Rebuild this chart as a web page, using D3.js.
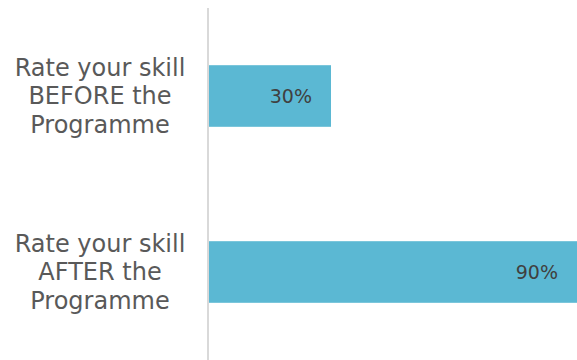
<!DOCTYPE html>
<html>
<head>
<meta charset="utf-8">
<script src="https://cdnjs.cloudflare.com/ajax/libs/d3/7.8.5/d3.min.js"></script>
<style>
	body { margin: 0; background: #fff; }
	svg { display: block; font-family: 'DejaVu Sans', Verdana, sans-serif; }
</style>
</head>
<body>
<div id="chart"></div>
<script>
// chart data
var categories = [
	['Rate your skill', 'BEFORE the', 'Programme'],
	['Rate your skill', 'AFTER the', 'Programme']
];
var values = [0.30, 0.90];
var valueLabels = ['30%', '90%'];

var width = 577, height = 360;
var margin = {left: 208, right: 0, top: 8, bottom: 0};

var svg = d3.select('#chart')
	.append('svg')
	.attr('width', width)
	.attr('height', height);

var x = d3.scaleLinear()
	.domain([0, 0.9])
	.range([margin.left, width - margin.right]);

var y = d3.scaleBand()
	.domain(d3.range(categories.length))
	.range([8, 360])
	.paddingInner(0.65)
	.paddingOuter(0.325);

// bars
svg.selectAll('.bar')
	.data(values)
	.enter().append('rect')
	.attr('class', 'bar')
	.attr('fill', '#5bb8d3')
	.attr('x', x(0) + 1)
	.attr('y', function(d, i) { return y(i); })
	.attr('width', function(d) { return x(d) - x(0) - 1; })
	.attr('height', y.bandwidth());

// value labels, inside end
svg.selectAll('.val')
	.data(values)
	.enter().append('text')
	.attr('class', 'val')
	.attr('x', function(d) { return x(d) - 19; })
	.attr('y', function(d, i) { return y(i) + y.bandwidth() / 2; })
	.attr('dy', '0.35em')
	.attr('text-anchor', 'end')
	.attr('fill', '#404040')
	.style('font-size', '19px')
	.text(function(d, i) { return valueLabels[i]; });

// category axis line
svg.append('line')
	.attr('x1', x(0)).attr('x2', x(0))
	.attr('y1', 8).attr('y2', 360)
	.attr('stroke', '#d9d9d9')
	.attr('stroke-width', 2);

// category labels, wrapped
var lineH = 28.5;
var labels = svg.selectAll('.cat')
	.data(categories)
	.enter().append('text')
	.attr('class', 'cat')
	.attr('text-anchor', 'middle')
	.attr('fill', '#595959')
	.style('font-size', '24px');

labels.each(function(lines, i) {
	var cy = y(i) + y.bandwidth() / 2;
	var t = d3.select(this);
	lines.forEach(function(s, j) {
		t.append('tspan')
			.attr('x', 100)
			.attr('y', cy + (j - (lines.length - 1) / 2) * lineH)
			.attr('dy', '0.35em')
			.text(s);
	});
});
</script>
</body>
</html>
